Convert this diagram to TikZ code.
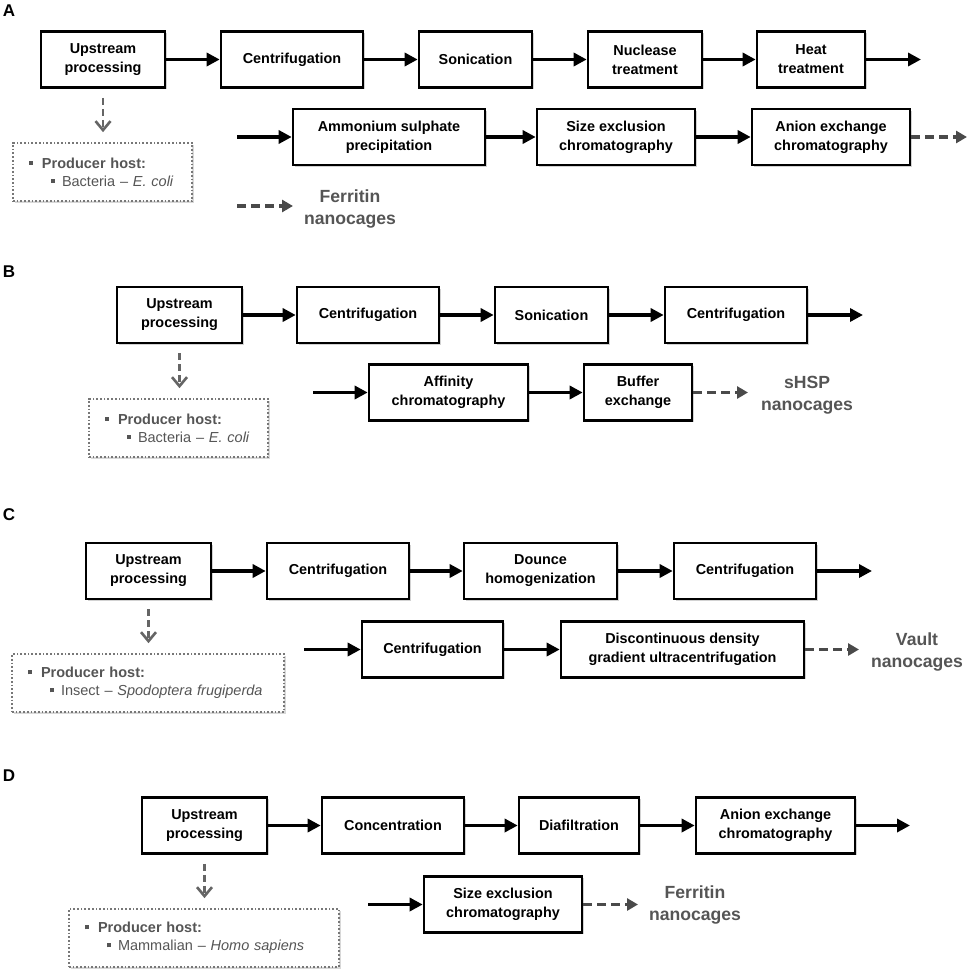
\documentclass[tikz,border=0pt]{standalone}
\usepackage{fontspec}
\setmainfont{Liberation Sans}
\usetikzlibrary{arrows.meta,shadows,calc}
\definecolor{txtgray}{HTML}{555555}
\definecolor{boxgray}{HTML}{777777}
\definecolor{arrgray}{HTML}{4A4A4A}
\newcommand{\hostbullet}{{\color{txtgray}\rule[3.5pt]{4pt}{4pt}}}
\tikzset{
  stepbox/.style={draw=black, line width=2.6pt, fill=white, align=center,
    font=\fontsize{14.4}{19}\selectfont\bfseries, minimum height=56pt, inner sep=2pt,
    drop shadow={shadow xshift=1.5pt, shadow yshift=-1.5pt, opacity=0.35, fill=gray}},
  hostbox/.style={draw=boxgray, line width=1.7pt, dotted, fill=white, align=left,
    font=\fontsize{14.5}{18}\selectfont, text=txtgray, minimum height=58pt, inner xsep=16pt,
    drop shadow={shadow xshift=1.5pt, shadow yshift=-1.5pt, opacity=0.3, fill=gray}},
  flow/.style={line width=3.4pt, draw=black, -{Triangle[length=13pt,width=13pt]}},
  outflow/.style={line width=3.4pt, draw=arrgray, dash pattern=on 9pt off 5pt, -{Triangle[length=11pt,width=12pt]}},
  hostarrow/.style={line width=2.6pt, draw=arrgray!85, dash pattern=on 7pt off 4pt, -{Straight Barb[length=9pt,width=15pt,line width=2.6pt]}},
  product/.style={align=center, text=txtgray, font=\fontsize{17.6}{21.5}\selectfont\bfseries},
  panel/.style={font=\fontsize{17}{20}\selectfont\bfseries, text=black}
}
\begin{document}
\begin{tikzpicture}[x=1pt,y=-1pt]
\useasboundingbox[fill=white] (0,0) rectangle (969,974);

% ---------------- Panel A ----------------
\node[panel] (lblA) at (9,11) {A};
\node[stepbox, minimum width=124pt] (upA) at (103,59.5) {Upstream\\processing};
\node[stepbox, minimum width=142pt] (cA) at (292,59.5) {Centrifugation};
\node[stepbox, minimum width=113pt] (sA) at (475.5,59.5) {Sonication};
\node[stepbox, minimum width=114pt] (nA) at (645,59.5) {Nuclease\\treatment};
\node[stepbox, minimum width=108pt] (hA) at (811,59.5) {Heat\\treatment};
\coordinate (endA1) at (921,59.5);
\draw[flow] (upA) -- (cA);
\draw[flow] (cA) -- (sA);
\draw[flow] (sA) -- (nA);
\draw[flow] (nA) -- (hA);
\draw[flow] (hA) -- (endA1);

\coordinate (startA2) at (237,137);
\node[stepbox, minimum width=192pt] (amA) at (389,137) {Ammonium sulphate\\precipitation};
\node[stepbox, minimum width=158pt] (seA) at (616,137) {Size exclusion\\chromatography};
\node[stepbox, minimum width=158pt] (axA) at (831,137) {Anion exchange\\chromatography};
\coordinate (endA2) at (967,137);
\draw[flow] (startA2) -- (amA);
\draw[flow] (amA) -- (seA);
\draw[flow] (seA) -- (axA);
\draw[outflow] (axA) -- (endA2);

\node[hostbox, minimum width=179pt, text width=147pt] (hostA) at (102.5,172)
  {{\bfseries\hostbullet\hspace{9pt}Producer host:}\\\hspace{22pt}\hostbullet\hspace{7pt}Bacteria – \textit{E. coli}};
\draw[hostarrow] ($(upA.south)+(0,9)$) -- ($(upA.south |- hostA.north)+(0,-10)$);

\coordinate (legS) at (237,206);
\coordinate (legE) at (293,206);
\draw[outflow] (legS) -- (legE);
\node[product] (ferA) at (350,209) {Ferritin\\nanocages};

% ---------------- Panel B ----------------
\node[panel] (lblB) at (9,272) {B};
\node[stepbox, minimum width=125pt] (upB) at (179.5,315) {Upstream\\processing};
\node[stepbox, minimum width=142pt] (cB) at (368,315) {Centrifugation};
\node[stepbox, minimum width=113pt] (sB) at (551.5,315) {Sonication};
\node[stepbox, minimum width=142pt] (c2B) at (736,315) {Centrifugation};
\coordinate (endB1) at (863,315);
\draw[flow] (upB) -- (cB);
\draw[flow] (cB) -- (sB);
\draw[flow] (sB) -- (c2B);
\draw[flow] (c2B) -- (endB1);

\coordinate (startB2) at (313,392.5);
\node[stepbox, minimum width=159pt] (afB) at (448.5,392.5) {Affinity\\chromatography};
\node[stepbox, minimum width=108pt] (buB) at (638,392.5) {Buffer\\exchange};
\coordinate (endB2) at (748,392.5);
\draw[flow] (startB2) -- (afB);
\draw[flow] (afB) -- (buB);
\draw[outflow] (buB) -- (endB2);
\node[product] (shsp) at (807,395) {sHSP\\nanocages};

\node[hostbox, minimum width=179pt, text width=147pt] (hostB) at (178.5,428)
  {{\bfseries\hostbullet\hspace{9pt}Producer host:}\\\hspace{22pt}\hostbullet\hspace{7pt}Bacteria – \textit{E. coli}};
\draw[hostarrow] ($(upB.south)+(0,9)$) -- ($(upB.south |- hostB.north)+(0,-10)$);

% ---------------- Panel C ----------------
\node[panel] (lblC) at (9,515) {C};
\node[stepbox, minimum width=125pt] (upC) at (148.5,571) {Upstream\\processing};
\node[stepbox, minimum width=142pt] (cC) at (338,571) {Centrifugation};
\node[stepbox, minimum width=153pt] (dC) at (540.5,571) {Dounce\\homogenization};
\node[stepbox, minimum width=142pt] (c2C) at (745,571) {Centrifugation};
\coordinate (endC1) at (872,571);
\draw[flow] (upC) -- (cC);
\draw[flow] (cC) -- (dC);
\draw[flow] (dC) -- (c2C);
\draw[flow] (c2C) -- (endC1);

\coordinate (startC2) at (304,649.5);
\node[stepbox, minimum width=141pt] (c3C) at (432.5,649.5) {Centrifugation};
\node[stepbox, minimum width=243pt] (diC) at (682.5,649.5) {Discontinuous density\\gradient ultracentrifugation};
\coordinate (endC2) at (859,649.5);
\draw[flow] (startC2) -- (c3C);
\draw[flow] (c3C) -- (diC);
\draw[outflow] (diC) -- (endC2);
\node[product] (vault) at (917,652) {Vault\\nanocages};

\node[hostbox, minimum width=272pt, text width=240pt] (hostC) at (148,683)
  {{\bfseries\hostbullet\hspace{9pt}Producer host:}\\\hspace{22pt}\hostbullet\hspace{7pt}Insect – \textit{Spodoptera frugiperda}};
\draw[hostarrow] ($(upC.south)+(0,9)$) -- ($(upC.south |- hostC.north)+(0,-10)$);

% ---------------- Panel D ----------------
\node[panel] (lblD) at (9,776) {D};
\node[stepbox, minimum width=125pt] (upD) at (204.5,825.5) {Upstream\\processing};
\node[stepbox, minimum width=142pt] (coD) at (393,825.5) {Concentration};
\node[stepbox, minimum width=120pt] (diaD) at (579,825.5) {Diafiltration};
\node[stepbox, minimum width=159pt] (anD) at (775.5,825.5) {Anion exchange\\chromatography};
\coordinate (endD1) at (910,825.5);
\draw[flow] (upD) -- (coD);
\draw[flow] (coD) -- (diaD);
\draw[flow] (diaD) -- (anD);
\draw[flow] (anD) -- (endD1);

\coordinate (startD2) at (368,904.5);
\node[stepbox, minimum width=158pt] (seD) at (503,904.5) {Size exclusion\\chromatography};
\coordinate (endD2) at (638,904.5);
\draw[flow] (startD2) -- (seD);
\draw[outflow] (seD) -- (endD2);
\node[product] (ferD) at (695,905) {Ferritin\\nanocages};

\node[hostbox, minimum width=270pt, text width=238pt] (hostD) at (204,938)
  {{\bfseries\hostbullet\hspace{9pt}Producer host:}\\\hspace{22pt}\hostbullet\hspace{7pt}Mammalian – \textit{Homo sapiens}};
\draw[hostarrow] ($(upD.south)+(0,9)$) -- ($(upD.south |- hostD.north)+(0,-10)$);
\end{tikzpicture}
\end{document}
